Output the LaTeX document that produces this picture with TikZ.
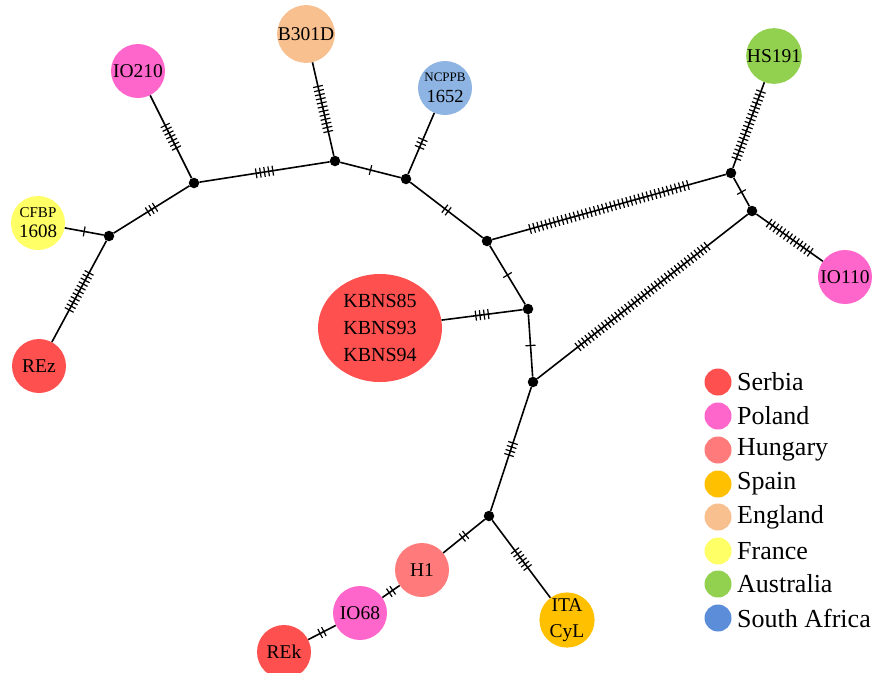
\documentclass[tikz,border=0pt]{standalone}
\usepackage{fontspec}
\setmainfont{Liberation Serif}
\usetikzlibrary{calc,shapes.geometric}
\definecolor{serbia}{HTML}{FF5050}
\definecolor{poland}{HTML}{FF66CC}
\definecolor{hungary}{HTML}{FF7B7B}
\definecolor{spain}{HTML}{FFC000}
\definecolor{england}{HTML}{F8BF8F}
\definecolor{france}{HTML}{FFFF66}
\definecolor{australia}{HTML}{92D050}
\definecolor{safrica}{HTML}{5B8DD8}
\definecolor{safricalight}{HTML}{8DB4E2}
\newcommand\hapedge[3]{%
  \draw[edgeline] (#1) -- coordinate[pos=0.5] (m) (#2);
  \foreach \k in {1,...,#3}{
    \pgfmathsetmacro\dd{(\k-(#3+1)/2)*4.2}
    \draw[tickline] ($(m)!\dd pt!(#2)$) coordinate (t)
      ($(t)!5pt!90:(#2)$) -- ($(t)!5pt!-90:(#2)$);
  }
}
\begin{document}
\begin{tikzpicture}[x=1pt,y=-1pt,
  hap/.style={circle,draw=none,minimum size=54pt,inner sep=0pt,align=center,
    font=\fontsize{19.5}{22}\selectfont},
  junc/.style={circle,fill=black,minimum size=10.5pt,inner sep=0pt},
  edgeline/.style={line width=1.6pt,black},
  tickline/.style={line width=1.2pt,black},
  legdot/.style={circle,minimum size=27pt,inner sep=0pt},
  legtext/.style={anchor=west,inner sep=0pt,font=\fontsize{26}{28}\selectfont}]
\useasboundingbox (0,0) rectangle (882,672);
% haplotype nodes
\node[hap,fill=poland] (io210) at (138,71) {IO210};
\node[hap,fill=england] (b301d) at (306,34) {B301D};
\node[hap,fill=safricalight,align=center] (ncppb) at (445,88)
  {{\fontsize{13}{14}\selectfont NCPPB}\\[-1pt]{\fontsize{18.5}{20}\selectfont 1652}};
\node[hap,fill=australia] (hs191) at (774,56) {HS191};
\node[hap,fill=poland] (io110) at (845,277) {IO110};
\node[hap,fill=france] (cfbp) at (38,223)
  {{\fontsize{15}{16}\selectfont CFBP}\\[-2pt]{\fontsize{19}{20}\selectfont 1608}};
\node[hap,fill=serbia] (rez) at (39,366) {REz};
\node[ellipse,fill=serbia,minimum width=124pt,minimum height=108pt,inner sep=0pt,
  align=center,font=\fontsize{20}{27}\selectfont] (kbns) at (380,328)
  {KBNS85\\KBNS93\\KBNS94};
\node[hap,fill=hungary] (h1) at (422,570) {H1};
\node[hap,fill=poland] (io68) at (360,613) {IO68};
\node[hap,fill=serbia] (rek) at (284,652) {REk};
\node[hap,fill=spain,font=\fontsize{19.5}{26}\selectfont] (ita) at (567,620) {ITA\\CyL};
% junctions
\node[junc] (j1) at (109,236) {};
\node[junc] (j2) at (194,183) {};
\node[junc] (j3) at (335,161) {};
\node[junc] (j4) at (406,179) {};
\node[junc] (j5) at (487,241) {};
\node[junc] (j6) at (731,173) {};
\node[junc] (j7) at (752,211) {};
\node[junc] (j8) at (528,309) {};
\node[junc] (j9) at (533,382) {};
\node[junc] (j10) at (489,516) {};
% edges with mutation ticks
\hapedge{j1}{cfbp}{1}
\hapedge{j1}{rez}{11}
\hapedge{j1}{j2}{3}
\hapedge{j2}{io210}{7}
\hapedge{j2}{j3}{5}
\hapedge{j3}{b301d}{12}
\hapedge{j3}{j4}{1}
\hapedge{j4}{ncppb}{3}
\hapedge{j4}{j5}{2}
\hapedge{j5}{j6}{40}
\hapedge{j6}{hs191}{18}
\hapedge{j6}{j7}{1}
\hapedge{j7}{io110}{13}
\hapedge{j9}{j7}{40}
\hapedge{j5}{j8}{1}
\hapedge{j8}{kbns}{4}
\hapedge{j8}{j9}{1}
\hapedge{j9}{j10}{4}
\hapedge{j10}{h1}{2}
\hapedge{j10}{ita}{6}
\hapedge{h1}{io68}{2}
\hapedge{io68}{rek}{2}
% legend
\node[legdot,fill=serbia] (l1) at (718,382) {};
\node[legtext] (t1) at (737,382) {Serbia};
\node[legdot,fill=poland] (l2) at (718,416) {};
\node[legtext] (t2) at (737,416) {Poland};
\node[legdot,fill=hungary] (l3) at (718,450) {};
\node[legtext] (t3) at (737,450) {Hungary};
\node[legdot,fill=spain] (l4) at (718,484) {};
\node[legtext] (t4) at (737,484) {Spain};
\node[legdot,fill=england] (l5) at (718,517) {};
\node[legtext] (t5) at (737,517) {England};
\node[legdot,fill=france] (l6) at (718,551) {};
\node[legtext] (t6) at (737,551) {France};
\node[legdot,fill=australia] (l7) at (718,584) {};
\node[legtext] (t7) at (737,584) {Australia};
\node[legdot,fill=safrica] (l8) at (718,618) {};
\node[legtext] (t8) at (737,618) {South Africa};
\end{tikzpicture}
\end{document}
